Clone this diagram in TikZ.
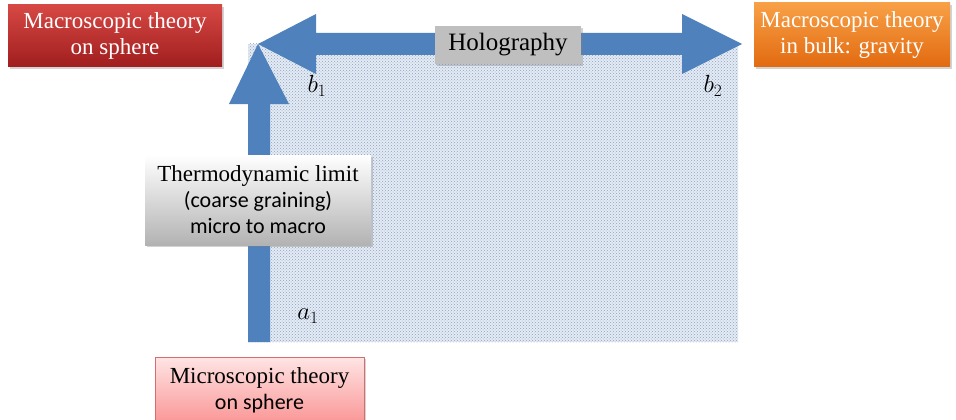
\documentclass[tikz,border=0pt]{standalone}
\usepackage{fontspec}
\setmainfont{Liberation Serif}
\newfontfamily\calibri{Carlito}
\usetikzlibrary{patterns,shadows}
\definecolor{arrowblue}{RGB}{79,129,189}
\definecolor{dotbg}{RGB}{228,235,244}
\definecolor{dotfg}{RGB}{140,162,194}
\definecolor{redtop}{RGB}{214,72,68}
\definecolor{redbot}{RGB}{160,30,30}
\definecolor{orgtop}{RGB}{248,160,70}
\definecolor{orgbot}{RGB}{226,106,16}
\definecolor{holo}{RGB}{191,191,191}
\definecolor{pinktop}{RGB}{255,228,228}
\definecolor{pinkbot}{RGB}{250,150,150}
\definecolor{pinkline}{RGB}{210,110,110}
\tikzset{
  box/.style={align=center, inner sep=0pt, font=\fontsize{23}{26}\selectfont,
    drop shadow={opacity=0.35, shadow xshift=2pt, shadow yshift=-2pt}},
  lbl/.style={font=\fontsize{27}{28}\selectfont, inner sep=0pt},
  blockarrow/.style={fill=arrowblue, draw=none}
}
\newcommand{\cf}{\calibri\fontsize{22}{26}\selectfont}
\begin{document}
\begin{tikzpicture}[x=1pt,y=-1pt]
\useasboundingbox (0,0) rectangle (956,420);
% dotted field
\fill[dotbg] (248,44) rectangle (738,342);
\fill[pattern=crosshatch dots, pattern color=dotfg] (248,44) rectangle (738,342);
% anchor coordinates
\coordinate (lt) at (258,44);
\coordinate (rt) at (742,44);
% vertical arrow
\fill[blockarrow] (248,342) -- (248,104) -- (229,104) -- (lt) -- (289,104) -- (270,104) -- (270,342) -- cycle;
% horizontal double arrow
\fill[blockarrow] (lt) -- (316,14) -- (316,33) -- (682,33) -- (682,14) -- (rt) -- (682,74) -- (682,55) -- (316,55) -- (316,74) -- cycle;
% boxes
\node[box, shading=axis, top color=redtop, bottom color=redbot, text=white,
  minimum width=214pt, minimum height=62pt] (macro) at (115,36)
  {Macroscopic theory\\on sphere};
\node[box, shading=axis, top color=orgtop, bottom color=orgbot, text=white,
  minimum width=196pt, minimum height=64pt] (bulk) at (852,35)
  {Macroscopic theory\\in bulk: gravity};
\node[box, fill=holo, minimum width=146pt, minimum height=38pt,
  font=\fontsize{25}{26}\selectfont] (holo) at (508,45)
  {Holography};
\node[box, shading=axis, top color=white, bottom color=gray!60, text=black,
  minimum width=226pt, minimum height=90pt] (thermo) at (258,200)
  {Thermodynamic limit\\{\cf (coarse graining)}\\{\cf micro to macro}};
\node[box, shading=axis, top color=pinktop, bottom color=pinkbot, draw=pinkline,
  minimum width=209pt, minimum height=66pt, anchor=north] (micro) at (259.5,357)
  {Microscopic theory\\{\cf on sphere}};
% labels
\node[lbl] (b1) at (317,86) {$b_1$};
\node[lbl] (b2) at (713,86) {$b_2$};
\node[lbl] (a1) at (308,316) {$a_1$};
\end{tikzpicture}
\end{document}
